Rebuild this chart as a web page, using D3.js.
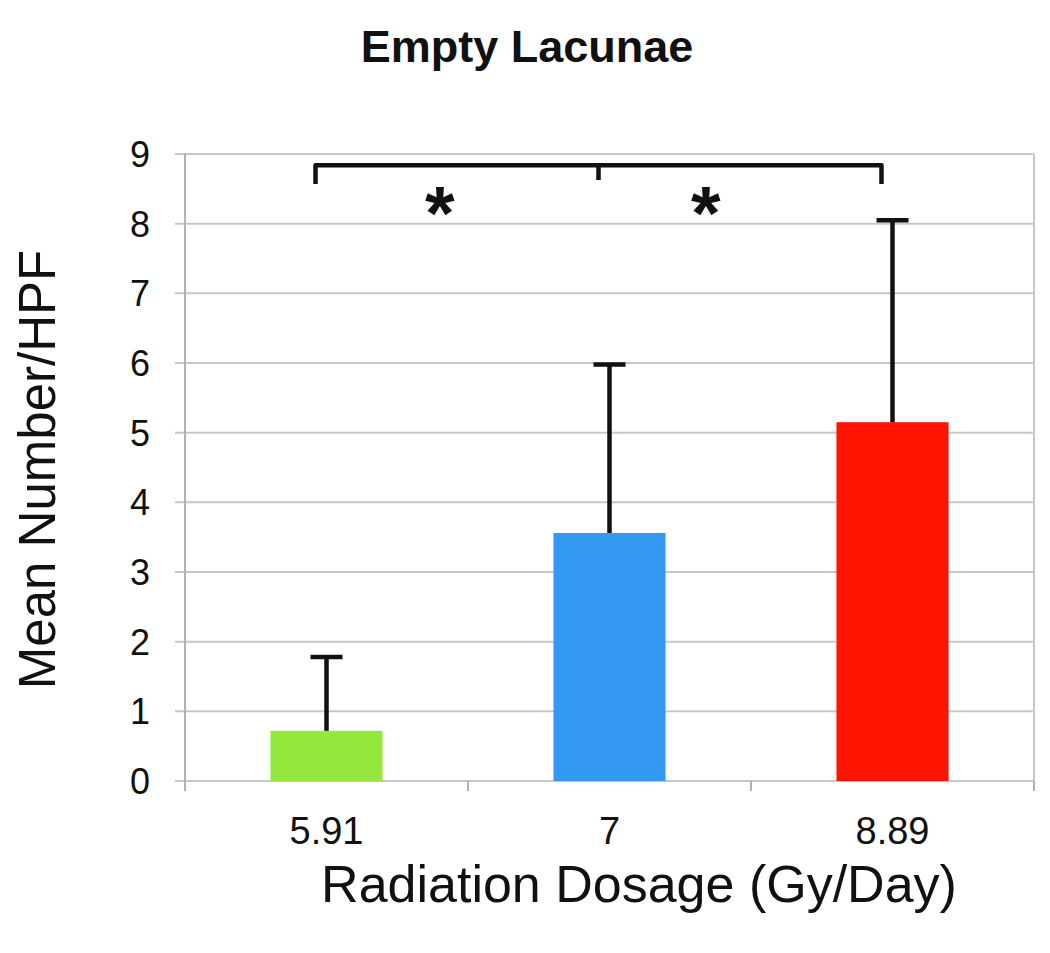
<!DOCTYPE html>
<html>
<head>
<meta charset="utf-8">
<script src="https://cdn.jsdelivr.net/npm/d3@7"></script>
<style>
  html, body { margin: 0; padding: 0; background: #fff; }
  svg { display: block; font-family: Arial, "Liberation Sans", sans-serif; }
</style>
</head>
<body>
<svg id="chart" width="1050" height="953"></svg>
<script>
// chart data
const categories = ["5.91", "7", "8.89"];
const means = [0.72, 3.56, 5.15];
const errorTops = [1.78, 5.98, 8.05];
const barColors = ["#94e83c", "#3399f3", "#fc1400"];
const yTicks = [0, 1, 2, 3, 4, 5, 6, 7, 8, 9];

// significance bracket: spans first to last category, ticks at each category
const bracketLevel = 8.84;
const bracketDrop = 0.27;
const starLevel = 7.78;
const stars = [{from: 0, to: 1, at: 0.40}, {from: 1, to: 2, at: 0.34}];

const svg = d3.select("#chart");
const plotLeft = 185, plotRight = 1034, plotTop = 154, plotBottom = 781;

const x = d3.scaleBand()
    .domain(categories)
    .range([plotLeft, plotRight])
    .paddingInner(0.604)
    .paddingOuter(0.302);

const y = d3.scaleLinear()
    .domain([0, 9])
    .range([plotBottom, plotTop]);

const cx = c => x(c) + x.bandwidth() / 2;

// gridlines
svg.append("g")
    .selectAll("line")
    .data(yTicks)
    .join("line")
    .attr("x1", plotLeft - 10)
    .attr("x2", plotRight)
    .attr("y1", d => y(d))
    .attr("y2", d => y(d))
    .attr("stroke", "#c4c8c6")
    .attr("stroke-width", 2);

// right border
svg.append("line")
    .attr("x1", plotRight).attr("x2", plotRight)
    .attr("y1", plotTop).attr("y2", plotBottom + 10)
    .attr("stroke", "#c4c8c6")
    .attr("stroke-width", 2);

// y axis
const yAxis = svg.append("g")
    .attr("transform", `translate(${plotLeft},0)`)
    .call(d3.axisLeft(y).tickValues(yTicks).tickSize(0).tickPadding(35));
yAxis.select(".domain")
    .attr("stroke", "#aeb2b0")
    .attr("stroke-width", 2)
    .attr("d", `M0,${plotTop}V${plotBottom + 10}`);
yAxis.selectAll("text")
    .attr("font-size", 36)
    .attr("fill", "#111")
    .attr("dy", "0.35em");

// x axis
const xAxis = svg.append("g")
    .attr("transform", `translate(0,${plotBottom})`)
    .call(d3.axisBottom(x).tickSize(0).tickPadding(36));
xAxis.select(".domain").remove();
xAxis.selectAll("text")
    .attr("font-size", 38)
    .attr("fill", "#111");

// category boundary ticks
const step = x.step();
svg.append("g")
    .selectAll("line")
    .data(d3.range(categories.length + 1))
    .join("line")
    .attr("x1", i => plotLeft + i * step)
    .attr("x2", i => plotLeft + i * step)
    .attr("y1", plotBottom)
    .attr("y2", plotBottom + 10)
    .attr("stroke", "#aeb2b0")
    .attr("stroke-width", 2);

// bars
svg.append("g")
    .selectAll("rect")
    .data(categories)
    .join("rect")
    .attr("x", d => x(d))
    .attr("width", x.bandwidth())
    .attr("y", (d, i) => y(means[i]))
    .attr("height", (d, i) => y(0) - y(means[i]))
    .attr("fill", (d, i) => barColors[i]);

// error bars (upper only)
const err = svg.append("g")
    .attr("stroke", "#111")
    .attr("stroke-width", 4.5);
err.selectAll("line.stem")
    .data(categories)
    .join("line")
    .attr("class", "stem")
    .attr("x1", d => cx(d))
    .attr("x2", d => cx(d))
    .attr("y1", (d, i) => y(means[i]))
    .attr("y2", (d, i) => y(errorTops[i]));
err.selectAll("line.cap")
    .data(categories)
    .join("line")
    .attr("class", "cap")
    .attr("x1", d => cx(d) - 16)
    .attr("x2", d => cx(d) + 16)
    .attr("y1", (d, i) => y(errorTops[i]))
    .attr("y2", (d, i) => y(errorTops[i]));

// significance bracket
const bx = categories.map(c => cx(c) - 11);
const yb = y(bracketLevel), yd = y(bracketLevel - bracketDrop);
svg.append("path")
    .attr("d", `M${bx[0]},${yd}V${yb}H${bx[2]}V${yd}M${bx[1]},${yb}V${yd - 4}`)
    .attr("fill", "none")
    .attr("stroke", "#111")
    .attr("stroke-width", 4.5)
    .attr("stroke-linejoin", "round");

svg.append("g")
    .selectAll("text")
    .data(stars)
    .join("text")
    .attr("x", d => cx(categories[d.from]) + d.at * step)
    .attr("y", y(starLevel))
    .attr("text-anchor", "middle")
    .attr("font-size", 76)
    .attr("font-weight", "bold")
    .attr("fill", "#111")
    .text("*");

// title
svg.append("text")
    .attr("x", 527)
    .attr("y", 62)
    .attr("text-anchor", "middle")
    .attr("font-size", 45)
    .attr("font-weight", "bold")
    .attr("fill", "#111")
    .text("Empty Lacunae");

// axis titles
svg.append("text")
    .attr("x", 639)
    .attr("y", 902)
    .attr("text-anchor", "middle")
    .attr("font-size", 52)
    .attr("fill", "#111")
    .text("Radiation Dosage (Gy/Day)");

svg.append("text")
    .attr("transform", `translate(55,${(plotTop + plotBottom) / 2 + 2}) rotate(-90)`)
    .attr("text-anchor", "middle")
    .attr("font-size", 51)
    .attr("fill", "#111")
    .text("Mean Number/HPF");
</script>
</body>
</html>
